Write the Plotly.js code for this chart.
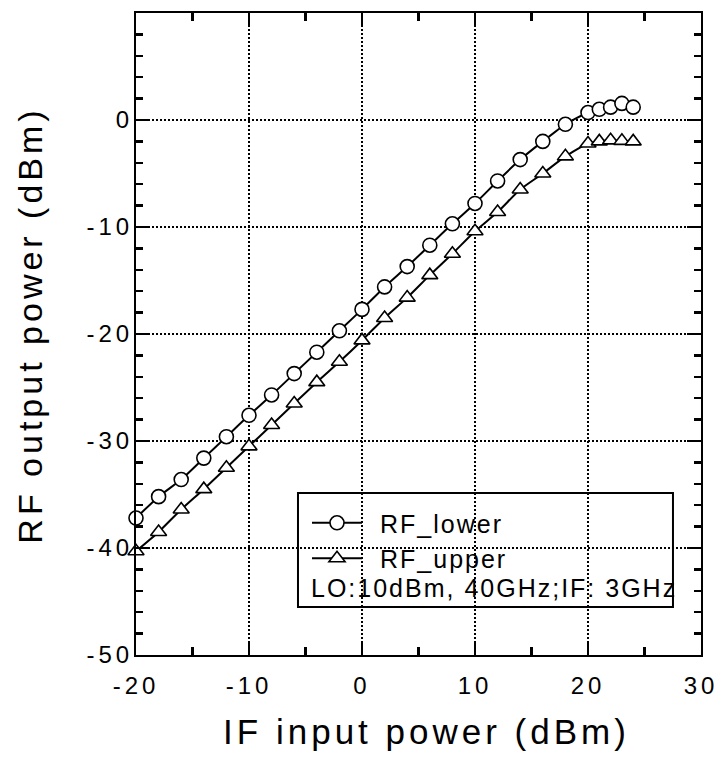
<!DOCTYPE html>
<html>
<head>
<meta charset="utf-8">
<script src="https://cdn.plot.ly/plotly-3.0.1.min.js"></script>
<style>
  html, body { margin: 0; padding: 0; background: #fff; }
  #chart { width: 721px; height: 762px; }
  .xtick text, .ytick text { letter-spacing: 4px; }
  .g-xtitle text, .g-ytitle text { letter-spacing: 4px; }
  .g-xtitle { transform: translateX(8px); }
  .g-ytitle { transform: translateY(-9px); }
  .legend .scrollbox { clip-path: none !important; }
  .legendtext { letter-spacing: 2px; transform: translateX(13px); }
  .annotation-text { letter-spacing: 2px; }
</style>
</head>
<body>
<div id="chart"></div>
<script>
// IF input power (dBm)
const ifPower = [-20, -18, -16, -14, -12, -10, -8, -6, -4, -2, 0, 2, 4, 6, 8, 10, 12, 14, 16, 18, 20, 21, 22, 23, 24];
// RF output power (dBm), lower sideband (circles)
const rfLower = [-37.2, -35.2, -33.6, -31.6, -29.6, -27.6, -25.7, -23.7, -21.7, -19.7, -17.7, -15.6, -13.7, -11.7, -9.7, -7.8, -5.7, -3.7, -2.0, -0.4, 0.7, 1.0, 1.2, 1.55, 1.2];
// RF output power (dBm), upper sideband (triangles)
const rfUpper = [-40.3, -38.5, -36.4, -34.5, -32.5, -30.5, -28.5, -26.5, -24.5, -22.6, -20.6, -18.5, -16.6, -14.5, -12.5, -10.4, -8.6, -6.5, -5.0, -3.4, -2.2, -2.0, -1.9, -1.95, -2.0];

const seriesNames = ['RF_lower', 'RF_upper'];
const noteText = 'LO:10dBm, 40GHz;IF: 3GHz';
const xTickVals = [-20, -10, 0, 10, 20, 30];
const xTickText = ['-20', '-10', '0', '10', '20', '30'];
const yTickVals = [-50, -40, -30, -20, -10, 0, 10];
const yTickText = ['-50', '-40', '-30', '-20', '-10', '0', '10'];
const xTitle = 'IF input power (dBm)';
const yTitle = 'RF output power (dBm)';

const FONT = 'Liberation Sans, Arial, Helvetica, sans-serif';
const TICKC = '#000000';

const traces = [
  {
    x: ifPower, y: rfLower, name: seriesNames[0], type: 'scatter', mode: 'lines+markers',
    line: { color: '#000', width: 2, shape: 'spline', smoothing: 0.6 },
    marker: { symbol: 'circle', size: 14, color: '#fff', line: { color: '#000', width: 1.6 } },
    cliponaxis: false
  },
  {
    x: ifPower, y: rfUpper, name: seriesNames[1], type: 'scatter', mode: 'lines+markers',
    line: { color: '#000', width: 2, shape: 'spline', smoothing: 0.6 },
    marker: { symbol: 'triangle-up', size: 14, color: '#fff', line: { color: '#000', width: 1.6 } },
    cliponaxis: false
  }
];

const axisCommon = {
  showline: true, linecolor: '#000', linewidth: 2, mirror: 'ticks',
  ticks: 'inside', ticklen: 14, tickwidth: 2.5, tickcolor: TICKC,
  showgrid: true, gridcolor: '#000', gridwidth: 1.3, griddash: '2px,2px',
  zeroline: false, tickmode: 'array',
  tickfont: { family: FONT, size: 24, color: '#000' }
};

const layout = {
  width: 721, height: 762,
  margin: { l: 136, r: 20, t: 13, b: 107 },
  paper_bgcolor: '#fff', plot_bgcolor: '#fff',
  showlegend: true,
  xaxis: Object.assign({}, axisCommon, {
    range: [-20, 30], tickvals: xTickVals, ticktext: xTickText,
    ticklabelstandoff: 8,
    minor: { dtick: 5, tick0: 0, ticks: 'inside', ticklen: 8, tickwidth: 2.5, tickcolor: TICKC, showgrid: false },
    title: { text: xTitle, font: { family: FONT, size: 35, color: '#000' }, standoff: 22 }
  }),
  yaxis: Object.assign({}, axisCommon, {
    range: [-50, 10], tickvals: yTickVals, ticktext: yTickText,
    ticklabelstandoff: -4,
    minor: { dtick: 2, tick0: 0, ticks: 'inside', ticklen: 7, tickwidth: 2.5, tickcolor: TICKC, showgrid: false },
    title: { text: yTitle, font: { family: FONT, size: 34, color: '#000' }, standoff: 34 }
  }),
  legend: {
    x: (307 - 136) / 565, y: 0.2414, xanchor: 'left', yanchor: 'top',
    bgcolor: 'rgba(0,0,0,0)', borderwidth: 0,
    itemwidth: 50, tracegroupgap: 0,
    font: { family: FONT, size: 25, color: '#000' }
  },
  shapes: [{
    type: 'rect', xref: 'paper', yref: 'paper',
    x0: 0.2867, x1: 0.9504, y0: 0.0748, y1: 0.2523,
    line: { color: '#000', width: 2 }, fillcolor: '#fff', layer: 'between'
  }],
  annotations: [{
    text: noteText, xref: 'paper', yref: 'paper',
    x: 0.306, y: 0.1044, xanchor: 'left', yanchor: 'middle', showarrow: false,
    font: { family: FONT, size: 25, color: '#000' }
  }]
};

Plotly.newPlot('chart', traces, layout, { displayModeBar: false, staticPlot: true });
</script>
</body>
</html>
